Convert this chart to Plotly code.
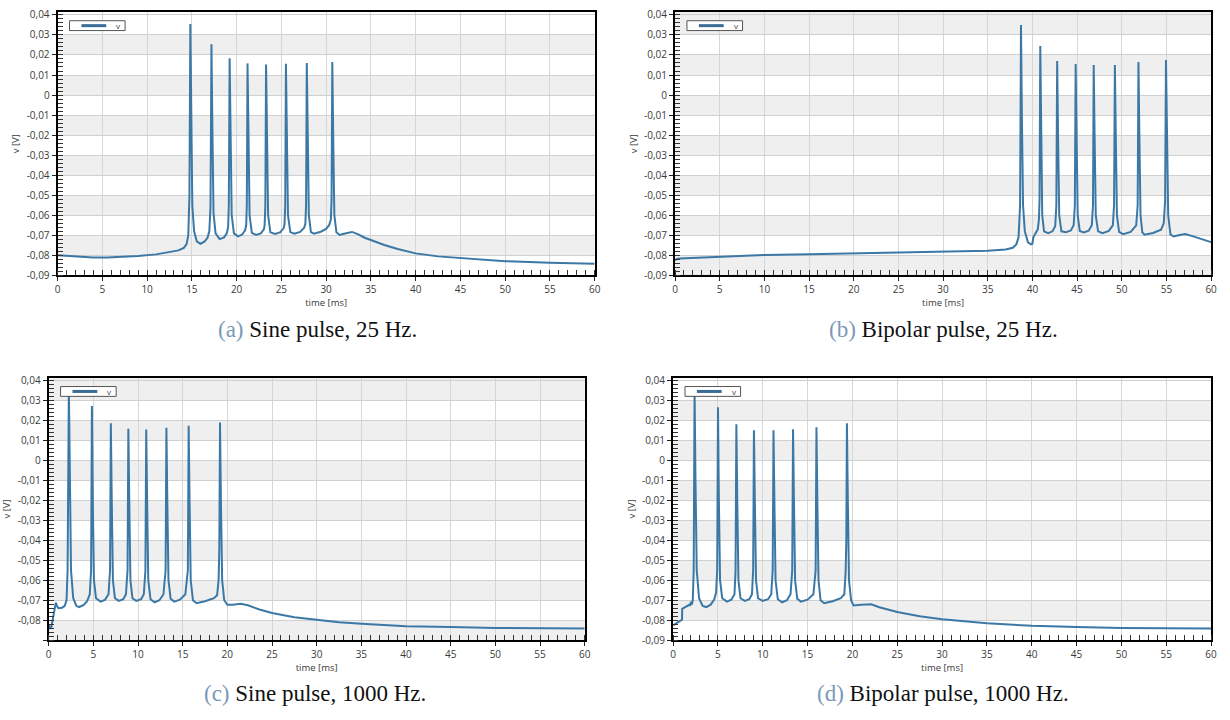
import plotly.graph_objects as go

W, H = 1230, 720

# ---------------- data ----------------
t_a = [0, 2, 4, 5.5, 7, 9, 11, 12.5, 13.5, 14.1, 14.4, 14.6, 14.73, 14.83,
       14.93, 15.05, 15.25, 15.55, 15.95, 16.4, 16.75,
       16.95, 17.08, 17.19, 17.29, 17.42, 17.65, 18.1, 18.6, 18.9,
       19.05, 19.13, 19.22, 19.32, 19.45, 19.7, 20.15, 20.6, 20.95,
       21.07, 21.14, 21.22, 21.32, 21.45, 21.7, 22.18, 22.7, 23.05,
       23.13, 23.21, 23.29, 23.39, 23.52, 23.77, 24.3, 24.85, 25.25,
       25.35, 25.43, 25.51, 25.61, 25.74, 26.0, 26.45, 27.1, 27.55,
       27.68, 27.76, 27.84, 27.94, 28.07, 28.3, 28.65, 29.4, 30.0, 30.35,
       30.53, 30.61, 30.69, 30.79, 30.92, 31.15, 31.5, 32.0, 32.9, 33.6, 34.3,
       35, 36.5, 38, 40, 42.5, 45, 47.5, 50, 55, 60]
v_a = [-0.0800, -0.0806, -0.0810, -0.0811, -0.0808, -0.0803, -0.0795, -0.0785, -0.0775, -0.0763, -0.0745, -0.0700, -0.0500, 0.0354,
       -0.0100, -0.0550, -0.0680, -0.0730, -0.0742, -0.0732, -0.0712,
       -0.0680, -0.0560, 0.0253, -0.0150, -0.0590, -0.0690, -0.0719, -0.0710, -0.0690,
       -0.0660, -0.0550, 0.0183, -0.0200, -0.0600, -0.0690, -0.0705, -0.0697, -0.0675,
       -0.0650, -0.0550, 0.0158, -0.0200, -0.0600, -0.0688, -0.0698, -0.0690, -0.0670,
       -0.0648, -0.0550, 0.0153, -0.0200, -0.0600, -0.0685, -0.0693, -0.0685, -0.0665,
       -0.0645, -0.0550, 0.0156, -0.0200, -0.0600, -0.0684, -0.0692, -0.0683, -0.0662,
       -0.0642, -0.0550, 0.0160, -0.0200, -0.0600, -0.0684, -0.0692, -0.0682, -0.0668, -0.0648,
       -0.0620, -0.0520, 0.0165, -0.0200, -0.0600, -0.0685, -0.0698, -0.0692, -0.0683, -0.0695, -0.0712,
       -0.0723, -0.0748, -0.0768, -0.0790, -0.0805, -0.0814, -0.0822, -0.0829, -0.0837, -0.0842]

t_b = [0, 0.2, 0.5, 5, 10, 15, 20, 25, 30, 35, 37, 37.8, 38.2, 38.45, 38.62, 38.72,
       38.82, 38.95, 39.15, 39.5, 39.85, 40.0, 40.1, 40.3, 40.6,
       40.73, 40.8, 40.88, 40.98, 41.1, 41.3, 41.76, 42.25, 42.55,
       42.68, 42.77, 42.87, 43.0, 43.25, 43.74, 44.3, 44.62,
       44.75, 44.84, 44.94, 45.07, 45.3, 45.75, 46.3, 46.65,
       46.78, 46.86, 46.96, 47.09, 47.35, 47.85, 48.55, 49.0,
       49.14, 49.23, 49.33, 49.46, 49.7, 50.15, 51.0, 51.62,
       51.78, 51.87, 51.97, 52.1, 52.3, 52.55, 53.5, 54.4, 54.7,
       54.85, 54.95, 55.05, 55.2, 55.45, 55.8, 56.5, 57.1, 58, 59, 60]
v_b = [-0.0825, -0.0818, -0.0815, -0.0806, -0.0798, -0.0794, -0.0790, -0.0787, -0.0782, -0.0777, -0.0771, -0.0762, -0.0745, -0.0710, -0.0550, 0.0350,
       -0.0100, -0.0550, -0.0680, -0.0735, -0.0745, -0.0742, -0.0710, -0.0695, -0.0670,
       -0.0620, -0.0520, 0.0245, -0.0200, -0.0600, -0.0680, -0.0689, -0.0680, -0.0655,
       -0.0550, 0.0170, -0.0200, -0.0600, -0.0680, -0.0685, -0.0676, -0.0650,
       -0.0550, 0.0155, -0.0200, -0.0600, -0.0678, -0.0685, -0.0677, -0.0650,
       -0.0550, 0.0150, -0.0200, -0.0600, -0.0680, -0.0689, -0.0678, -0.0650,
       -0.0550, 0.0150, -0.0200, -0.0600, -0.0683, -0.0694, -0.0683, -0.0650,
       -0.0550, 0.0165, -0.0200, -0.0600, -0.0685, -0.0697, -0.0688, -0.0672, -0.0640,
       -0.0530, 0.0175, -0.0200, -0.0600, -0.0695, -0.0706, -0.0698, -0.0694, -0.0705, -0.0720, -0.0734]

t_c = [0, 0.15, 0.3, 0.55, 0.8, 0.95, 1.1, 1.5, 1.8, 2.0, 2.12, 2.26,
       2.36, 2.5, 2.75, 3.1, 3.4, 3.9, 4.3, 4.6,
       4.75, 4.84, 4.94, 5.07, 5.3, 5.8, 6.3, 6.7,
       6.87, 6.96, 7.06, 7.19, 7.42, 7.85, 8.35, 8.65,
       8.83, 8.92, 9.02, 9.15, 9.38, 9.8, 10.35, 10.65,
       10.83, 10.92, 11.02, 11.15, 11.4, 11.85, 12.4, 12.85,
       13.09, 13.18, 13.28, 13.41, 13.65, 14.05, 14.7, 15.3,
       15.58, 15.67, 15.77, 15.9, 16.15, 16.55, 17.5, 18.5, 18.85,
       19.02, 19.1, 19.18, 19.28, 19.42, 19.65, 20.0, 20.6, 21.5, 22.3, 23.5,
       25, 27.5, 30, 32.5, 35, 40, 45, 50, 60]
v_c = [-0.0820, -0.0840, -0.0835, -0.0770, -0.0712, -0.0730, -0.0740, -0.0738, -0.0728, -0.0700, -0.0550, 0.0360,
       -0.0100, -0.0550, -0.0690, -0.0728, -0.0734, -0.0725, -0.0705, -0.0670,
       -0.0550, 0.0271, -0.0200, -0.0600, -0.0690, -0.0707, -0.0698, -0.0670,
       -0.0550, 0.0185, -0.0200, -0.0600, -0.0690, -0.0703, -0.0695, -0.0670,
       -0.0550, 0.0157, -0.0200, -0.0600, -0.0690, -0.0703, -0.0695, -0.0670,
       -0.0550, 0.0154, -0.0200, -0.0600, -0.0695, -0.0710, -0.0700, -0.0670,
       -0.0550, 0.0162, -0.0200, -0.0600, -0.0693, -0.0707, -0.0697, -0.0670,
       -0.0550, 0.0173, -0.0200, -0.0600, -0.0700, -0.0715, -0.0705, -0.0690, -0.0675,
       -0.0600, -0.0450, 0.0189, -0.0200, -0.0600, -0.0700, -0.0723, -0.0722, -0.0718, -0.0725, -0.0745,
       -0.0764, -0.0785, -0.0798, -0.0810, -0.0818, -0.0830, -0.0834, -0.0839, -0.0841]

t_d = [0, 0.5, 1.0, 1.02, 1.5, 1.8, 1.9, 2.0, 2.1, 2.2, 2.3, 2.40,
       2.5, 2.64, 2.9, 3.3, 3.7, 4.2, 4.6, 4.8,
       4.92, 5.01, 5.11, 5.24, 5.48, 6.0, 6.5, 6.85,
       6.97, 7.06, 7.16, 7.29, 7.52, 8.0, 8.5, 8.8,
       8.93, 9.02, 9.12, 9.25, 9.48, 9.98, 10.6, 10.95,
       11.11, 11.20, 11.30, 11.43, 11.68, 12.16, 12.7, 13.1,
       13.29, 13.38, 13.48, 13.61, 13.85, 14.25, 15.0, 15.65,
       15.9, 15.99, 16.09, 16.22, 16.45, 16.86, 17.8, 18.7, 19.1,
       19.25, 19.32, 19.39, 19.49, 19.62, 19.85, 20.13, 21.0, 22.1, 23.0,
       25, 27.5, 30, 35, 40, 45, 50, 60]
v_d = [-0.0826, -0.0812, -0.0797, -0.0743, -0.0733, -0.0723, -0.0728, -0.0707, -0.0722, -0.0700, -0.0550, 0.0355,
       -0.0100, -0.0550, -0.0690, -0.0728, -0.0734, -0.0722, -0.0695, -0.0660,
       -0.0550, 0.0265, -0.0200, -0.0600, -0.0690, -0.0707, -0.0697, -0.0670,
       -0.0550, 0.0180, -0.0200, -0.0600, -0.0690, -0.0703, -0.0695, -0.0670,
       -0.0550, 0.0150, -0.0200, -0.0600, -0.0690, -0.0703, -0.0695, -0.0670,
       -0.0550, 0.0150, -0.0200, -0.0600, -0.0695, -0.0710, -0.0700, -0.0670,
       -0.0550, 0.0155, -0.0200, -0.0600, -0.0693, -0.0707, -0.0697, -0.0670,
       -0.0550, 0.0165, -0.0200, -0.0600, -0.0700, -0.0715, -0.0705, -0.0690, -0.0670,
       -0.0550, -0.0400, 0.0185, -0.0200, -0.0600, -0.0700, -0.0726, -0.0722, -0.0720, -0.0735,
       -0.0759, -0.0780, -0.0795, -0.0815, -0.0828, -0.0834, -0.0839, -0.0841]

x_ticks = [0, 5, 10, 15, 20, 25, 30, 35, 40, 45, 50, 55, 60]
x_labels = ["0", "5", "10", "15", "20", "25", "30", "35", "40", "45", "50", "55", "60"]
y_ticks = [0.04, 0.03, 0.02, 0.01, 0, -0.01, -0.02, -0.03, -0.04, -0.05, -0.06, -0.07, -0.08, -0.09]
y_labels = ["0,04", "0,03", "0,02", "0,01", "0", "-0,01", "-0,02", "-0,03", "-0,04",
            "-0,05", "-0,06", "-0,07", "-0,08", "-0,09"]
y_labels_c = y_labels[:-1] + [""]

captions = ["Sine pulse, 25 Hz.", "Bipolar pulse, 25 Hz.", "Sine pulse, 1000 Hz.", "Bipolar pulse, 1000 Hz."]
caption_tags = ["(a)", "(b)", "(c)", "(d)"]
series_name = "v"
x_title = "time [ms]"
y_title = "v [V]"

# ---------------- layout geometry (pixels) ----------------
panels = [
    dict(t=t_a, v=v_a, x0=55, x1=596, y0=7, y1=275, ylab=y_labels, phase=0, ymax=0.0415),
    dict(t=t_b, v=v_b, x0=677, x1=1217, y0=7, y1=275, ylab=y_labels, phase=1, ymax=0.0415),
    dict(t=t_c, v=v_c, x0=46, x1=586, y0=379, y1=646, ylab=y_labels_c, phase=1, ymax=0.0413),
    dict(t=t_d, v=v_d, x0=675, x1=1217, y0=379, y1=646, ylab=y_labels, phase=0, ymax=0.0413),
]
cap_pos = [(317, 330), (947, 330), (314, 700), (947, 700)]

LINE = "#3b78a6"
FONT = "Open Sans"
TXT = "#3a3a3a"

fig = go.Figure()
shapes, annos = [], []


def px_x(x):
    return x / W


def px_y(y):
    return 1 - y / H


for i, p in enumerate(panels):
    n = "" if i == 0 else str(i + 1)
    xa, ya = "xaxis" + n, "yaxis" + n
    fig.add_trace(go.Scatter(x=p["t"], y=p["v"], mode="lines", name=series_name,
                             line=dict(color=LINE, width=2), showlegend=False,
                             xaxis="x" + n, yaxis="y" + n))
    fig.layout[xa] = dict(
        domain=[px_x(p["x0"]), px_x(p["x1"])], anchor="y" + n, range=[0, 60],
        tickmode="array", tickvals=x_ticks, ticktext=x_labels,
        ticks="outside", ticklen=4, tickcolor="#222", tickwidth=1,
        showgrid=True, gridcolor="#d6d6d6", gridwidth=1, zeroline=False,
        showline=True, linecolor="black", linewidth=2, mirror=True,
        tickfont=dict(family=FONT, size=10, color=TXT),
        title=dict(text=x_title, font=dict(family=FONT, size=9.5, color=TXT), standoff=2),
        minor=dict(tick0=0, dtick=1, ticks="inside", ticklen=5, tickcolor="#333", tickwidth=1, showgrid=False),
    )
    fig.layout[ya] = dict(
        domain=[px_y(p["y1"]), px_y(p["y0"])], anchor="x" + n, range=[-0.09, p["ymax"]],
        tickmode="array", tickvals=y_ticks, ticktext=p["ylab"],
        ticks="outside", ticklen=4, tickcolor="#222", tickwidth=1,
        showgrid=True, gridcolor="#d0d0d0", gridwidth=1, zeroline=False,
        showline=True, linecolor="black", linewidth=2, mirror=True,
        tickfont=dict(family=FONT, size=10, color=TXT),
        title=dict(text=y_title, font=dict(family=FONT, size=9.5, color=TXT), standoff=5),
        minor=dict(tick0=0, dtick=0.002, ticks="inside", ticklen=5, tickcolor="#333", tickwidth=1, showgrid=False),
    )
    # alternating grey bands
    lows = [-0.09, -0.08, -0.07, -0.06, -0.05, -0.04, -0.03, -0.02, -0.01, 0.0, 0.01, 0.02, 0.03]
    for k, lo in enumerate(lows):
        if k % 2 == p["phase"]:
            continue
        hi = p["ymax"] if lo == 0.03 else lo + 0.01
        shapes.append(dict(type="rect", xref="x" + n + " domain", yref="y" + n,
                           x0=0, x1=1, y0=lo, y1=hi, fillcolor="#efefef",
                           line=dict(width=0), layer="below"))
    # legend box
    lx, ly = p["x0"] + 12, p["y0"] + 9
    shapes.append(dict(type="rect", xref="paper", yref="paper",
                       x0=px_x(lx), x1=px_x(lx + 56), y0=px_y(ly + 10), y1=px_y(ly),
                       fillcolor="white", line=dict(color="#555", width=1)))
    shapes.append(dict(type="line", xref="paper", yref="paper",
                       x0=px_x(lx + 12), x1=px_x(lx + 37), y0=px_y(ly + 5), y1=px_y(ly + 5),
                       line=dict(color="#3a6d96", width=3)))
    annos.append(dict(text=series_name, xref="paper", yref="paper", x=px_x(lx + 49), y=px_y(ly + 5),
                      showarrow=False, xanchor="center", yanchor="middle",
                      font=dict(family=FONT, size=8, color=TXT)))
    # caption
    cx, cy = cap_pos[i]
    annos.append(dict(text="<span style='color:#7b99b9'>" + caption_tags[i] + "</span> " + captions[i],
                      xref="paper", yref="paper", x=px_x(cx), y=px_y(cy),
                      showarrow=False, xanchor="center", yanchor="middle",
                      font=dict(family="Liberation Serif", size=23, color="#111")))

fig.update_layout(width=W, height=H, margin=dict(l=0, r=0, t=0, b=0),
                  paper_bgcolor="white", plot_bgcolor="white",
                  shapes=shapes, annotations=annos, showlegend=False)

fig.write_html("out.html")
